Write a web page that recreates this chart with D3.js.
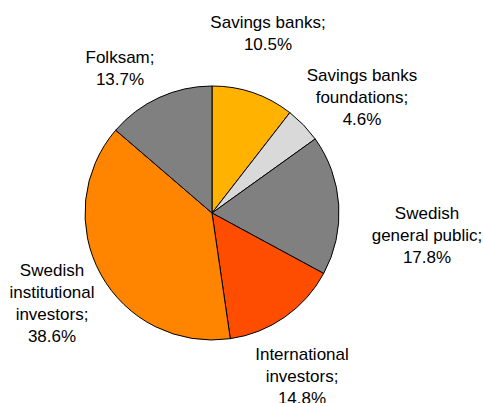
<!DOCTYPE html>
<html><head><meta charset="utf-8">
<script src="https://cdn.jsdelivr.net/npm/d3@7"></script>
<style>body{margin:0;background:#fff}svg{display:block}</style>
</head><body>
<script>
const categories = ["Savings banks", "Savings banks foundations", "Swedish general public", "International investors", "Swedish institutional investors", "Folksam"];
const values = [10.5, 4.6, 17.8, 14.8, 38.6, 13.7];
const colors = ["#FFB300", "#D9D9D9", "#808080", "#FF4D00", "#FF8400", "#808080"];
const labelLines = [
  ["Savings banks;", "10.5%"],
  ["Savings banks", "foundations;", "4.6%"],
  ["Swedish", "general public;", "17.8%"],
  ["International", "investors;", "14.8%"],
  ["Swedish", "institutional", "investors;", "38.6%"],
  ["Folksam;", "13.7%"]
];
const labelAnchors = [[268, 28], [362, 81], [427, 219], [302, 360], [52, 276], [120, 63]];

const W = 484, H = 403, cx = 212, cy = 213, R = 127;
const svg = d3.select("body").append("svg").attr("width", W).attr("height", H);
const pie = d3.pie().sort(null).value(d => d)(values);
const arc = d3.arc().innerRadius(0).outerRadius(R);
const g = svg.append("g").attr("transform", `translate(${cx},${cy})`);
g.selectAll("path").data(pie).join("path")
  .attr("d", arc).attr("fill", (d, i) => colors[i])
  .attr("stroke", "#000").attr("stroke-width", 1).attr("stroke-linejoin", "round");

labelLines.forEach((lines, i) => {
  const t = svg.append("text").attr("text-anchor", "middle")
    .attr("font-family", "Liberation Sans, Arial, sans-serif").attr("font-size", 17).attr("fill", "#000");
  lines.forEach((l, j) => {
    t.append("tspan").attr("x", labelAnchors[i][0]).attr("y", labelAnchors[i][1] + j * 22).text(l);
  });
});
</script>
</body></html>
